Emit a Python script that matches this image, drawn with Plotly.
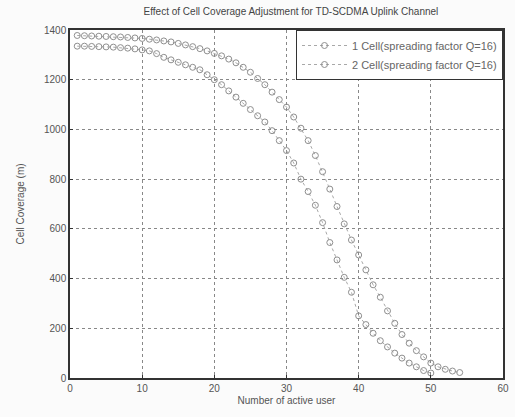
import plotly.graph_objects as go

users_1 = list(range(1, 55))
coverage_1 = [1378, 1377, 1376, 1375, 1374, 1373, 1372, 1370, 1368, 1366,
              1363, 1360, 1356, 1352, 1346, 1340, 1333, 1325, 1316, 1306,
              1296, 1283, 1268, 1250, 1230, 1205, 1180, 1150, 1120, 1090,
              1050, 1005, 955, 895, 830, 760, 690, 620, 555, 495,
              435, 375, 325, 270, 220, 175, 140, 110, 85, 60,
              45, 35, 28, 22]

users_2 = list(range(1, 51))
coverage_2 = [1335, 1335, 1334, 1333, 1332, 1331, 1329, 1327, 1324, 1320,
              1316, 1305, 1290, 1280, 1270, 1260, 1250, 1240, 1220, 1200,
              1180, 1155, 1130, 1105, 1080, 1055, 1030, 995, 955, 915,
              865, 800, 750, 695, 625, 545, 475, 405, 345, 250,
              215, 180, 150, 125, 100, 80, 60, 45, 30, 20]

names = ["1 Cell(spreading factor Q=16)", "2 Cell(spreading factor Q=16)"]
x_ticks = [0, 10, 20, 30, 40, 50, 60]
y_ticks = [0, 200, 400, 600, 800, 1000, 1200, 1400]

fig = go.Figure()
for xs, ys, nm in [(users_1, coverage_1, names[0]), (users_2, coverage_2, names[1])]:
    fig.add_trace(go.Scatter(x=xs, y=ys, name=nm, mode="lines+markers",
                             line=dict(color="#a8a8a8", width=1, dash="dot"),
                             marker=dict(symbol="circle-open", size=6, color="#8f8f8f",
                                         line=dict(width=1))))

axis_common = dict(showline=True, linecolor="#333", linewidth=1.5, mirror=True,
                   ticks="inside", ticklen=3, tickcolor="#333",
                   showgrid=True, gridcolor="#888", griddash="dot", gridwidth=1,
                   zeroline=False, tickfont=dict(size=10, color="#555"))

fig.update_layout(
    width=515, height=417,
    margin=dict(l=70, r=6, t=30, b=39),
    paper_bgcolor="#fbfbfb", plot_bgcolor="white",
    font=dict(family="Liberation Sans, Arial", size=10, color="#555"),
    title=dict(text="Effect of Cell Coverage Adjustment for TD-SCDMA Uplink Channel",
               x=0.565, xanchor="center", y=0.972, yanchor="middle",
               font=dict(size=10, color="#444")),
    xaxis=dict(range=[0, 60], tickvals=x_ticks,
               title=dict(text="Number of active user", standoff=4, font=dict(size=10, color="#555")),
               **axis_common),
    yaxis=dict(range=[0, 1400], tickvals=y_ticks,
               title=dict(text="Cell Coverage (m)", standoff=18, font=dict(size=10, color="#555")),
               **axis_common),
    legend=dict(x=1, xanchor="right", y=1, yanchor="top", bgcolor="white",
                bordercolor="#333", borderwidth=1, font=dict(size=11, color="#666"),
                tracegroupgap=0, itemwidth=45),
    showlegend=True,
)

fig.write_html("out.html")
